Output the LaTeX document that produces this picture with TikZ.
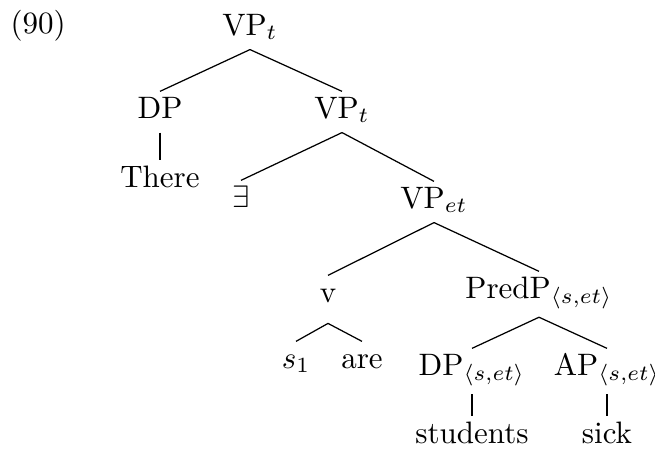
\documentclass[tikz,border=0pt]{standalone}
\usepackage{amsmath, amssymb}
\usepackage{tikz}

\begin{document}
\begin{tikzpicture}[x=0.3226pt, y=-0.3226pt,
  lbl/.style={inner sep=1pt, text height=7.4pt, text depth=3.5pt, anchor=base},
  angl/.style={lbl, text depth=5pt},
  unary/.style={line width=0.9pt}]
  \useasboundingbox (0,0) rectangle (655,449);
  \node[anchor=base west, inner sep=0pt] (exnum) at (10,33) {(90)};
  % nodi
  \node[lbl] (vpt) at (250,35) {VP$_t$};
  \node[lbl] (dp) at (160,118) {DP};
  \node[lbl] (there) at (160,187) {There};
  \node[lbl] (vpt2) at (342,118) {VP$_t$};
  \node[lbl] (ex) at (241,207) {$\exists$};
  \node[lbl] (vpet) at (434,208) {VP$_{et}$};
  \node[lbl] (v) at (328,302) {v};
  \node[angl] (predp) at (539,298) {PredP$_{\langle s,et\rangle}$};
  \node[lbl] (s1) at (296,368) {$s_1$};
  \node[lbl] (are) at (362,368) {are};
  \node[angl] (dpse) at (472,375) {DP$_{\langle s,et\rangle}$};
  \node[angl] (apse) at (607,375) {AP$_{\langle s,et\rangle}$};
  \node[lbl] (students) at (472,443) {students};
  \node[lbl] (sick) at (607,443) {sick};
  % rami
  \draw (vpt.south) -- (dp.north);
  \draw (vpt.south) -- (vpt2.north);
  \draw[unary] (dp.south) -- (there.north);
  \draw (vpt2.south) -- (ex.north);
  \draw (vpt2.south) -- (vpet.north);
  \draw (vpet.south) -- (v.north);
  \draw (vpet.south) -- (predp.north);
  \draw ([yshift=-2.2pt]v.south) -- (s1.north);
  \draw ([yshift=-2.2pt]v.south) -- (are.north);
  \draw (predp.south) -- (dpse.north);
  \draw (predp.south) -- (apse.north);
  \draw[unary] (dpse.south) -- (students.north);
  \draw[unary] (apse.south) -- (sick.north);
\end{tikzpicture}
\end{document}
